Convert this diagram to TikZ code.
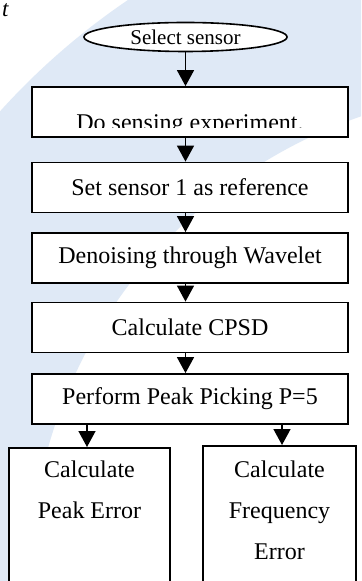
\documentclass[tikz,border=0pt]{standalone}
\usepackage{xcolor}
\usepackage{fontspec}
\setmainfont{Liberation Serif}
\usepackage{tikz}
\usetikzlibrary{shapes,arrows.meta,positioning,calc}
\definecolor{markblue}{RGB}{223,233,246}

\tikzset{
    stepbox/.style={draw, line width=0.9pt, fill=white, rectangle, inner sep=0pt,
        minimum width=158pt, minimum height=25pt, font=\fontsize{12}{14}\selectfont},
    startnode/.style={draw, line width=0.8pt, fill=white, ellipse, inner sep=0pt,
        minimum width=101.5pt, minimum height=14.5pt, font=\fontsize{10.5}{12}\selectfont},
    leafbox/.style={draw, line width=0.9pt, fill=white, rectangle, inner sep=0pt,
        minimum height=90pt, anchor=north},
    leaftext/.style={anchor=north, align=center, inner sep=0pt,
        font=\fontsize{12}{20.5}\selectfont},
    flow/.style={line width=0.75pt, -{Triangle[length=8pt,width=8.5pt]}}
}

\begin{document}
\begin{tikzpicture}[x=0.5pt,y=-0.5pt]
    \clip (0,0) rectangle (361,581);
    \fill[white] (0,0) rectangle (361,581);

    % faint logo band behind the chart
    \fill[markblue, even odd rule] (520,580) circle [radius=350pt] (520,580) circle [radius=245pt];

    % cut-off caption word
    \node[anchor=base east, inner sep=0pt, font=\fontsize{11.5}{12}\selectfont\itshape] (capt) at (9,17) {t};

    % main column
    \node[startnode] (start) at (185.5,37) {Select sensor};
    \node[stepbox] (expt) at (190,112) {};
    \begin{scope}
        \clip (expt.north west) rectangle ($(expt.east)+(0,16)$);
        \node[anchor=base, inner sep=0pt, font=\fontsize{12}{14}\selectfont] (expttext) at (190,131) {Do sensing experiment.};
    \end{scope}
    \node[stepbox] (ref) at (190,187.5) {Set sensor 1 as reference};
    \node[stepbox] (wavelet) at (190,258) {Denoising through Wavelet};
    \node[stepbox] (cpsd) at (190,327.5) {Calculate CPSD};
    \node[stepbox] (peak) at (190,399) {Perform Peak Picking P=5};

    % two result boxes
    \node[leafbox, minimum width=80.5pt] (peakerr) at (89.5,447) {};
    \node[leafbox, minimum width=76.5pt] (freqerr) at (279.5,445) {};
    \node[leaftext] (peakerrtext) at ($(peakerr.north)+(0,13)$) {Calculate\\Peak Error};
    \node[leaftext] (freqerrtext) at ($(freqerr.north)+(0,15)$) {Calculate\\Frequency\\Error};

    % arrows
    \draw[flow] (start.south) -- (start.south |- expt.north);
    \draw[flow] (start.south |- expt.south) -- (start.south |- ref.north);
    \draw[flow] (start.south |- ref.south) -- (start.south |- wavelet.north);
    \draw[flow] (start.south |- wavelet.south) -- (start.south |- cpsd.north);
    \draw[flow] (start.south |- cpsd.south) -- (start.south |- peak.north);
    \draw[flow] ([xshift=-1.25pt]peakerr.north |- peak.south) -- ([xshift=-1.25pt]peakerr.north);
    \draw[flow] ([xshift=1.25pt]freqerr.north |- peak.south) -- ([xshift=1.25pt]freqerr.north);
\end{tikzpicture}
\end{document}
